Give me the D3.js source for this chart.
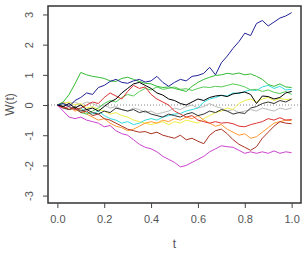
<!DOCTYPE html>
<html>
<head>
<meta charset="utf-8">
<script src="https://cdn.jsdelivr.net/npm/d3@7"></script>
<style>
  body { margin: 0; background: #fff; }
  svg { display: block; }
  text { font-family: "Liberation Sans", Arial, sans-serif; }
</style>
</head>
<body>
<div id="chart"></div>
<script>
// time grid and tick labels
var times = d3.range(0, 41).map(function(i) { return i / 40; });
var xTicks = [0, 0.2, 0.4, 0.6, 0.8, 1.0];
var yTicks = [-3, -2, -1, 0, 1, 2, 3];

// paths (one value per time step)
var navy = [0, 0.05, -0.05, 0.15, 0.25, 0.4, 0.35, 0.58, 0.65, 0.78, 0.85, 0.75, 0.72, 0.8, 0.85, 0.76, 0.8, 0.95, 0.75, 0.62, 0.75, 0.85, 0.8, 0.95, 0.98, 1.05, 1.25, 1.0, 1.4, 1.62, 1.88, 2.1, 2.38, 2.3, 2.7, 2.8, 2.62, 2.75, 2.88, 2.95, 3.06];
var green = [0, 0.1, 0.35, 0.7, 1.08, 1.0, 0.95, 0.92, 0.88, 0.8, 0.78, 0.88, 0.92, 0.85, 0.78, 0.72, 0.7, 0.62, 0.58, 0.6, 0.55, 0.5, 0.45, 0.62, 0.75, 0.85, 0.92, 0.98, 1.0, 1.05, 1.02, 1.06, 1.0, 1.03, 0.95, 0.85, 0.68, 0.62, 0.7, 0.6, 0.58];
var green2 = [0, -0.05, -0.15, -0.1, -0.25, -0.3, -0.2, -0.1, 0.05, 0.15, 0.1, 0.25, 0.35, 0.3, 0.45, 0.55, 0.5, 0.6, 0.52, 0.55, 0.6, 0.52, 0.54, 0.48, 0.55, 0.6, 0.58, 0.62, 0.6, 0.65, 0.7, 0.66, 0.6, 0.5, 0.52, 0.45, 0.5, 0.42, 0.38, 0.45, 0.35];
var cyan = [0, 0.05, -0.05, -0.15, -0.1, -0.25, -0.3, -0.2, -0.35, -0.45, -0.5, -0.6, -0.55, -0.65, -0.6, -0.5, -0.45, -0.5, -0.4, -0.35, -0.3, -0.28, -0.2, -0.15, -0.1, 0.1, 0.2, 0.25, 0.32, 0.3, 0.4, 0.38, 0.45, 0.5, 0.48, 0.6, 0.65, 0.55, 0.62, 0.5, 0.52];
var black = [0, -0.05, 0.05, -0.1, 0, -0.15, -0.1, -0.2, -0.05, 0.1, 0.2, 0.4, 0.55, 0.7, 0.75, 0.65, 0.55, 0.4, 0.33, 0.2, 0.15, 0.05, 0, 0.1, 0.2, 0.15, 0.25, 0.3, 0.32, 0.28, 0.37, 0.4, 0.43, 0.35, 0.05, 0.3, 0.28, 0.2, 0.25, 0.4, 0.45];
var black2 = [0, -0.1, -0.15, -0.05, -0.2, -0.15, -0.25, -0.3, -0.2, -0.25, -0.1, -0.15, -0.2, -0.15, -0.25, -0.2, -0.3, -0.35, -0.4, -0.3, -0.35, -0.4, -0.3, -0.25, -0.35, -0.3, -0.2, -0.25, -0.15, -0.2, -0.3, -0.25, -0.28, -0.1, -0.05, 0.05, 0.1, 0.05, 0.15, 0.1, 0.2];
var red = [0, -0.1, -0.05, -0.15, -0.1, 0, 0.1, 0.05, 0.25, 0.4, 0.3, 0.2, 0.45, 0.65, 0.55, 0.6, 0.35, 0.2, 0.1, 0, -0.2, -0.3, -0.4, -0.35, -0.5, -0.55, -0.6, -0.55, -0.6, -0.58, -0.62, -0.7, -0.72, -0.65, -0.6, -0.55, -0.45, -0.5, -0.42, -0.5, -0.48];
var brown = [0, -0.05, -0.15, -0.1, -0.25, -0.2, -0.35, -0.3, -0.45, -0.5, -0.6, -0.7, -0.8, -0.85, -0.9, -0.88, -0.95, -0.9, -1.0, -1.05, -1.1, -1.0, -1.15, -1.1, -1.2, -1.28, -1.0, -0.85, -0.8, -0.95, -1.15, -1.3, -1.4, -1.5, -1.38, -1.1, -0.9, -0.7, -0.55, -0.6, -0.62];
var magenta = [0, -0.2, -0.4, -0.45, -0.4, -0.5, -0.55, -0.6, -0.72, -0.68, -0.85, -0.95, -1.0, -1.15, -1.3, -1.4, -1.45, -1.55, -1.7, -1.8, -1.9, -2.05, -2.0, -1.9, -1.8, -1.7, -1.55, -1.45, -1.35, -1.38, -1.4, -1.5, -1.6, -1.55, -1.6, -1.55, -1.6, -1.52, -1.6, -1.55, -1.58];
var orange = [0, 0.1, -0.05, -0.2, -0.15, -0.3, -0.4, -0.5, -0.45, -0.6, -0.7, -0.75, -0.85, -0.8, -0.7, -0.6, -0.55, -0.6, -0.5, -0.55, -0.45, -0.5, -0.4, -0.45, -0.35, -0.5, -0.6, -0.7, -0.65, -0.8, -0.9, -1.0, -0.95, -1.1, -1.05, -0.9, -0.75, -0.6, -0.55, -0.5, -0.52];
var yellow = [0, 0.05, 0.1, 0, 0.05, -0.1, -0.05, -0.15, -0.2, -0.3, -0.25, -0.35, -0.4, -0.5, -0.55, -0.6, -0.65, -0.6, -0.55, -0.65, -0.55, -0.6, -0.5, -0.55, -0.6, -0.45, -0.35, -0.25, -0.2, -0.1, -0.15, 0.05, 0.15, 0.2, 0.1, 0.2, 0.25, 0.15, 0.22, 0.18, 0.2];
var gray = [0, -0.05, 0.05, 0.1, 0, 0.1, 0.05, -0.05, 0, -0.1, -0.05, -0.15, -0.2, -0.1, -0.15, -0.25, -0.2, -0.3, -0.25, -0.2, -0.1, -0.15, -0.05, 0, -0.1, -0.05, 0.05, -0.05, -0.1, -0.2, -0.15, -0.25, -0.2, -0.15, -0.2, -0.1, -0.15, -0.2, -0.1, -0.15, -0.1];

var series = [
  {color: "#bbbbbb", values: gray},
  {color: "#eeee44", values: yellow},
  {color: "#ff9933", values: orange},
  {color: "#33dddd", values: cyan},
  {color: "#55cc55", values: green2},
  {color: "#333333", values: black2},
  {color: "#cc44cc", values: magenta},
  {color: "#aa3322", values: brown},
  {color: "#dd3333", values: red},
  {color: "#33bb33", values: green},
  {color: "#000000", values: black},
  {color: "#222299", values: navy}
];

var W = 306, H = 254;
var box = {left: 48, right: 301, top: 6, bottom: 203};

var svg = d3.select("#chart")
  .append("svg")
    .attr("width", W)
    .attr("height", H);

// R style: 4% padding around the data range
var x = d3.scaleLinear()
  .domain([-0.04, 1.04])
  .range([box.left, box.right]);

var y = d3.scaleLinear()
  .domain([-3.245, 3.28])
  .range([box.bottom, box.top]);

// zero reference line
svg.append("line")
  .attr("x1", box.left).attr("x2", box.right)
  .attr("y1", y(0)).attr("y2", y(0))
  .style("stroke", "#888")
  .style("stroke-width", 1)
  .style("stroke-dasharray", "1,2");

var line = d3.line()
  .x(function(d, i) { return x(times[i]); })
  .y(function(d) { return y(d); });

svg.selectAll("path.walk")
  .data(series)
  .enter()
  .append("path")
    .attr("class", "walk")
    .attr("d", function(d) { return line(d.values); })
    .style("fill", "none")
    .style("stroke", function(d) { return d.color; })
    .style("stroke-width", 1)
    .style("stroke-linejoin", "round");

// box
svg.append("rect")
  .attr("x", box.left).attr("y", box.top)
  .attr("width", box.right - box.left)
  .attr("height", box.bottom - box.top)
  .style("fill", "none")
  .style("stroke", "#333")
  .style("stroke-width", 1.5);

// x axis
var xAxis = svg.append("g")
  .attr("transform", "translate(0," + box.bottom + ")")
  .call(d3.axisBottom(x).tickValues(xTicks).tickFormat(d3.format(".1f")).tickSize(5).tickPadding(7));

// y axis
var yAxis = svg.append("g")
  .attr("transform", "translate(" + box.left + ",0)")
  .call(d3.axisLeft(y).tickValues(yTicks).tickSize(5).tickFormat(function(d) { return d; }));

[xAxis, yAxis].forEach(function(g) {
  g.select(".domain").remove();
  g.selectAll(".tick line").style("stroke", "#444");
  g.selectAll(".tick text")
    .style("fill", "#555")
    .style("font-size", "11px")
    .style("font-family", "Liberation Sans, Arial, sans-serif");
});

// rotate y labels like R
yAxis.selectAll(".tick text")
  .attr("x", null).attr("dy", null)
  .attr("transform", "translate(-15,0) rotate(-90)")
  .style("text-anchor", "middle");

// axis titles
svg.append("text")
  .attr("x", (box.left + box.right) / 2)
  .attr("y", 248)
  .style("text-anchor", "middle")
  .style("font-size", "12px")
  .style("fill", "#555")
  .text("t");

svg.append("text")
  .attr("transform", "translate(14," + ((box.top + box.bottom) / 2) + ") rotate(-90)")
  .style("text-anchor", "middle")
  .style("font-size", "12px")
  .style("fill", "#555")
  .text("W(t)");
</script>
</body>
</html>
